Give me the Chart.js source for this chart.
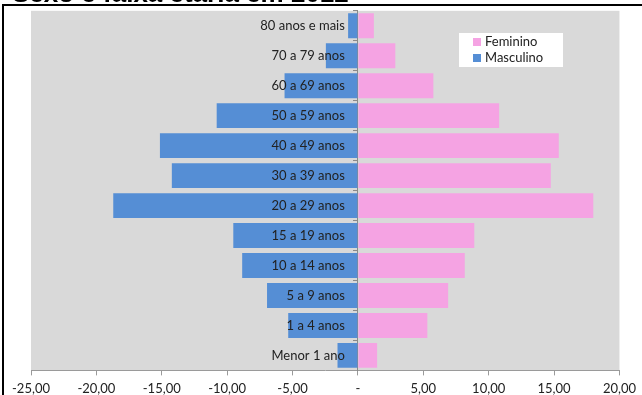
<!DOCTYPE html>
<html>
<head>
<meta charset="utf-8">
<script src="https://cdn.jsdelivr.net/npm/chart.js@4.4.1/dist/chart.umd.min.js"></script>
<style>
  html, body { margin: 0; padding: 0; background: #fff; overflow: hidden; }
  #wrap { position: relative; width: 642px; height: 395px; }
  #title { position: absolute; left: 12px; top: -20px; font: bold 26px Arial, "Liberation Sans", sans-serif; line-height: 26px; color: #000; white-space: nowrap; }
  #frame { position: absolute; left: 2px; top: 4px; right: -2px; bottom: -2px; border-top: 2px solid #000; border-left: 2px solid #000; pointer-events: none; }
  canvas { position: absolute; left: 0; top: 0; }
</style>
</head>
<body>
<div id="wrap">
  <canvas id="pyramidChart" width="642" height="395"></canvas>
  <div id="title">Sexo e faixa etária em 2012</div>
  <div id="frame"></div>
</div>
<script>
const ageGroups = ['80 anos e mais', '70 a 79 anos', '60 a 69 anos', '50 a 59 anos', '40 a 49 anos', '30 a 39 anos',
    '20 a 29 anos', '15 a 19 anos', '10 a 14 anos', '5 a 9 anos', '1 a 4 anos', 'Menor 1 ano'];
const feminino = [1.22, 2.86, 5.77, 10.8, 15.36, 14.75, 18.0, 8.9, 8.17, 6.9, 5.31, 1.47];
const masculino = [-0.75, -2.45, -5.61, -10.8, -15.14, -14.23, -18.71, -9.53, -8.85, -6.95, -5.33, -1.56];

const pink = '#f5a3e3';
const blue = '#558ed5';

const plotBackground = {
    id: 'plotBackground',
    beforeDraw(chart) {
        const { ctx, chartArea: a } = chart;
        ctx.save();
        ctx.fillStyle = '#d9d9d9';
        ctx.fillRect(a.left, a.top, a.right - a.left, a.bottom - a.top);
        ctx.restore();
    }
};

// legend box floats inside the plot, like the spreadsheet one
const floatingLegend = {
    id: 'floatingLegend',
    afterDraw(chart) {
        const ctx = chart.ctx;
        const items = [['Feminino', pink], ['Masculino', blue]];
        ctx.save();
        ctx.fillStyle = '#fff';
        ctx.fillRect(459, 33, 104, 34);
        ctx.font = '13px Lato, sans-serif';
        ctx.textBaseline = 'middle';
        items.forEach(([name, color], i) => {
            const y = 42 + i * 16;
            ctx.fillStyle = color;
            ctx.fillRect(473, y - 4, 8, 8);
            ctx.fillStyle = '#222';
            ctx.fillText(name, 485, y);
        });
        ctx.restore();
    }
};

new Chart(document.getElementById('pyramidChart'), {
    type: 'bar',
    data: {
        labels: ageGroups,
        datasets: [
            { label: 'Masculino', data: masculino, backgroundColor: blue, barPercentage: 0.83, categoryPercentage: 1 },
            { label: 'Feminino', data: feminino, backgroundColor: pink, barPercentage: 0.83, categoryPercentage: 1 }
        ]
    },
    options: {
        indexAxis: 'y',
        responsive: false,
        animation: false,
        layout: { padding: { left: 31, right: 18, top: 7, bottom: -8 } },
        plugins: {
            legend: { display: false },
            tooltip: { enabled: false }
        },
        scales: {
            x: {
                stacked: true,
                min: -25,
                max: 20,
                border: { color: '#9a9a9a' },
                grid: { drawOnChartArea: false, tickLength: 5, color: '#9a9a9a' },
                ticks: {
                    stepSize: 5,
                    padding: 6,
                    color: '#222',
                    font: { family: 'Lato', size: 13 },
                    maxRotation: 0,
                    callback: v => v === 0 ? '-' : v.toFixed(2).replace('.', ',')
                }
            },
            // labels only, anchored a little left of zero so they end before the axis line
            y: {
                stacked: true,
                position: { x: -1 },
                border: { display: false },
                grid: { display: false },
                ticks: {
                    z: 1,
                    autoSkip: false,
                    color: '#222',
                    font: { family: 'Lato', size: 13 }
                }
            },
            // the zero axis line with its small marks between age groups
            yAxis0: {
                type: 'category',
                axis: 'y',
                position: { x: 0 },
                offset: true,
                border: { color: '#8a8a8a' },
                grid: { offset: true, drawOnChartArea: false, tickLength: 4, color: '#8a8a8a' },
                ticks: { display: false }
            }
        }
    },
    plugins: [plotBackground, floatingLegend]
});
</script>
</body>
</html>
